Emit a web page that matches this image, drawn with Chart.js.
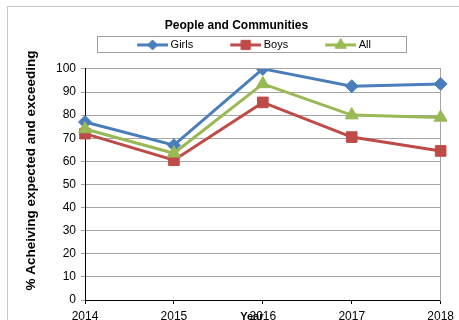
<!DOCTYPE html>
<html>
<head>
<meta charset="utf-8">
<title>People and Communities</title>
<script src="https://cdn.jsdelivr.net/npm/chart.js@4.4.0/dist/chart.umd.min.js"></script>
<style>
  html, body { margin: 0; padding: 0; background: #fff; }
  #wrap { width: 459px; height: 320px; overflow: hidden; }
</style>
</head>
<body>
<div id="wrap"><canvas id="chart" width="459" height="320"></canvas></div>
<script>
const years = ["2014", "2015", "2016", "2017", "2018"];
const girls = [77, 67, 100, 92.5, 93.5];
const boys = [72, 60.5, 85.5, 70.5, 64.5];
const all = [74, 63.5, 93.5, 80, 79];
const yTicks = [0, 10, 20, 30, 40, 50, 60, 70, 80, 90, 100];

const BLUE = "#4a7ebb";
const RED = "#be4b48";
const GREEN = "#98b954";
const GRID = "#a6a6a6";

const LEGEND_BOX = 63; // legend slot width, line sample sits at its right end
const LEGEND_LEAD = 35; // blank space in front of each legend sample

Chart.defaults.font.family = "'Liberation Sans', Arial, sans-serif";
Chart.defaults.color = "#000";

// line + marker sample for the legend, drawn on a small canvas
function legendSwatch(color, style, radius) {
  const c = document.createElement("canvas");
  c.width = LEGEND_BOX + 6;
  c.height = 14;
  const g = c.getContext("2d");
  const x0 = c.width - 31;
  g.strokeStyle = color;
  g.fillStyle = color;
  g.lineWidth = 3;
  g.beginPath();
  g.moveTo(x0, 7);
  g.lineTo(c.width, 7);
  g.stroke();
  g.lineWidth = 1;
  Chart.helpers.drawPoint(g, { pointStyle: style, radius: radius, borderWidth: 1, rotation: 0 }, x0 + 15.5, 7);
  return c;
}

const swatches = [
  legendSwatch(BLUE, "rectRot", 5),
  legendSwatch(RED, "rect", 6.5),
  legendSwatch(GREEN, "triangle", 6.5),
];

// outer frame, legend border and the two axis titles
const decorations = {
  id: "decorations",
  beforeDraw(chart) {
    const ctx = chart.ctx;
    ctx.save();
    ctx.strokeStyle = "#c8c8c8";
    ctx.lineWidth = 1;
    ctx.strokeRect(7.5, 6.5, chart.width, chart.height);

    const hb = chart.legend.legendHitBoxes;
    if (hb && hb.length) {
      const first = hb[0];
      const last = hb[hb.length - 1];
      const cy = first.top + first.height / 2;
      const left = Math.round(first.left + LEGEND_LEAD - 40) + 0.5;
      const right = Math.round(last.left + last.width + 35) + 0.5;
      ctx.strokeStyle = "#a0a0a0";
      ctx.strokeRect(left, Math.round(cy - 8.5) + 0.5, right - left, 16);
    }
    ctx.restore();
  },
  afterDraw(chart) {
    const ctx = chart.ctx;
    const area = chart.chartArea;
    ctx.save();
    ctx.fillStyle = "#000";
    ctx.font = "bold 13.5px 'Liberation Sans', Arial, sans-serif";
    ctx.textAlign = "center";
    ctx.textBaseline = "middle";
    ctx.translate(area.left - 54, (area.top + area.bottom) / 2 - 14);
    ctx.rotate(-Math.PI / 2);
    ctx.fillText("% Acheiving expected and exceeding", 0, 0);
    ctx.restore();

    ctx.save();
    ctx.fillStyle = "#000";
    ctx.font = "bold 11px 'Liberation Sans', Arial, sans-serif";
    ctx.textAlign = "center";
    ctx.textBaseline = "top";
    ctx.fillText("Year", (area.left + area.right) / 2 - 11, area.bottom + 11);
    ctx.restore();
  },
};

new Chart(document.getElementById("chart"), {
  type: "line",
  data: {
    labels: years,
    datasets: [
      {
        label: "Girls",
        data: girls,
        borderColor: BLUE,
        backgroundColor: BLUE,
        borderWidth: 3,
        pointStyle: "rectRot",
        pointRadius: 6.5,
        pointBorderWidth: 1,
        order: 3,
      },
      {
        label: "Boys",
        data: boys,
        borderColor: RED,
        backgroundColor: RED,
        borderWidth: 3,
        pointStyle: "rect",
        pointRadius: 7.5,
        pointBorderWidth: 1,
        order: 2,
      },
      {
        label: "All",
        data: all,
        borderColor: GREEN,
        backgroundColor: GREEN,
        borderWidth: 3,
        pointStyle: "triangle",
        pointRadius: 7.5,
        pointBorderWidth: 1,
        order: 1,
      },
    ],
  },
  options: {
    responsive: false,
    animation: false,
    events: [],
    layout: { padding: { left: 14, right: 0, top: 0, bottom: 0 } },
    plugins: {
      title: {
        display: true,
        text: "People and Communities",
        color: "#000",
        font: { size: 12, weight: "bold" },
        padding: { top: 18, bottom: 5 },
      },
      legend: {
        display: true,
        position: "top",
        weight: 1800,
        labels: {
          usePointStyle: true,
          pointStyleWidth: LEGEND_BOX,
          padding: 2,
          color: "#000",
          font: { size: 11 },
          generateLabels(chart) {
            return chart.data.datasets.map((ds, i) => ({
              text: ds.label,
              datasetIndex: i,
              pointStyle: swatches[i],
              fillStyle: ds.borderColor,
              strokeStyle: ds.borderColor,
              lineWidth: 0,
              fontColor: "#000",
              hidden: false,
            }));
          },
        },
      },
      // empty spacer between legend and plot
      subtitle: {
        display: true,
        text: "",
        padding: 0,
        font: { size: 8.5, lineHeight: 1 },
      },
      tooltip: { enabled: false },
    },
    scales: {
      x: {
        type: "category",
        offset: false,
        grid: { drawOnChartArea: false, drawTicks: true, tickLength: 4, color: "#000" },
        border: { color: "#000", width: 1 },
        ticks: { color: "#000", font: { size: 12 }, padding: 5, maxRotation: 0, autoSkip: false },
        afterFit(scale) { scale.height = 20; },
      },
      y: {
        min: 0,
        max: 100,
        grid: { color: GRID, tickLength: 4 },
        border: { color: "#000", width: 1 },
        ticks: { color: "#000", font: { size: 12 }, padding: 5 },
        afterBuildTicks(scale) { scale.ticks = yTicks.map((v) => ({ value: v })); },
        afterFit(scale) { scale.width = 71; },
      },
      y2: {
        position: "right",
        min: 0,
        max: 100,
        grid: { drawOnChartArea: false, drawTicks: false },
        border: { color: GRID, width: 1 },
        ticks: { display: false },
        afterFit(scale) { scale.width = 18; },
      },
    },
  },
  plugins: [decorations],
});
</script>
</body>
</html>
